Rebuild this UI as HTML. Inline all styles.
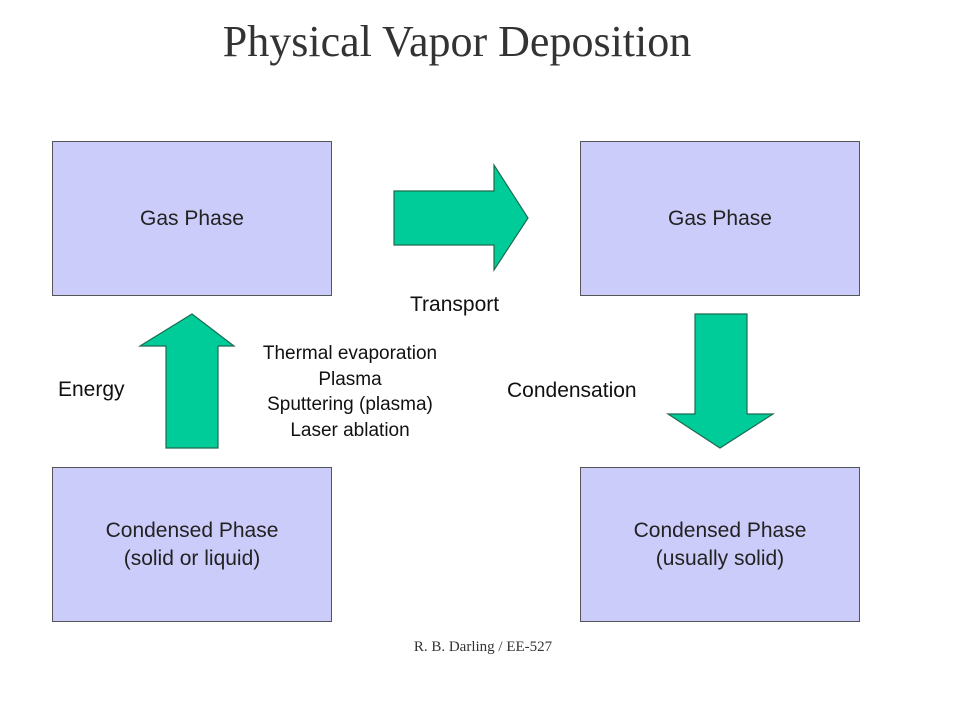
<!DOCTYPE html>
<html><head><style>
body{margin:0;width:960px;height:720px;background:#fff;position:relative;overflow:hidden;font-family:"Liberation Sans",sans-serif;}
.box{position:absolute;background:#ccccfa;border:1.5px solid #555;box-sizing:border-box;display:flex;align-items:center;justify-content:center;text-align:center;font-size:21px;color:#222;line-height:28px;}
.t{position:absolute;color:#111;}
</style></head><body>
<div class="t" style="left:0;width:914px;text-align:center;top:16px;font-family:'Liberation Serif',serif;font-size:44px;color:#333;">Physical Vapor Deposition</div>
<div class="box" style="left:52px;top:141px;width:280px;height:155px;">Gas Phase</div>
<div class="box" style="left:580px;top:141px;width:280px;height:155px;">Gas Phase</div>
<div class="box" style="left:52px;top:467px;width:280px;height:155px;">Condensed Phase<br>(solid or liquid)</div>
<div class="box" style="left:580px;top:467px;width:280px;height:155px;">Condensed Phase<br>(usually solid)</div>
<svg width="960" height="720" style="position:absolute;left:0;top:0">
<g fill="#00cc99" stroke="#1a6b50" stroke-width="1.2">
<polygon points="166,448 218,448 218,346 234,346 192,314 140,346 166,346"/>
<polygon points="394,191 494,191 494,165 528,218 494,270 494,245 394,245"/>
<polygon points="695,314 747,314 747,414 773,414 720,448 668,414 695,414"/>
</g></svg>
<div class="t" style="left:410px;top:293px;font-size:21px;">Transport</div>
<div class="t" style="left:58px;top:378px;font-size:21px;">Energy</div>
<div class="t" style="left:507px;top:379px;font-size:21px;">Condensation</div>
<div class="t" style="left:240px;width:220px;text-align:center;top:341px;font-size:19px;line-height:25.5px;">Thermal evaporation<br>Plasma<br>Sputtering (plasma)<br>Laser ablation</div>
<div class="t" style="left:0;width:966px;text-align:center;top:639px;font-family:'Liberation Serif',serif;font-size:15px;color:#333;">R. B. Darling / EE-527</div>
</body></html>
